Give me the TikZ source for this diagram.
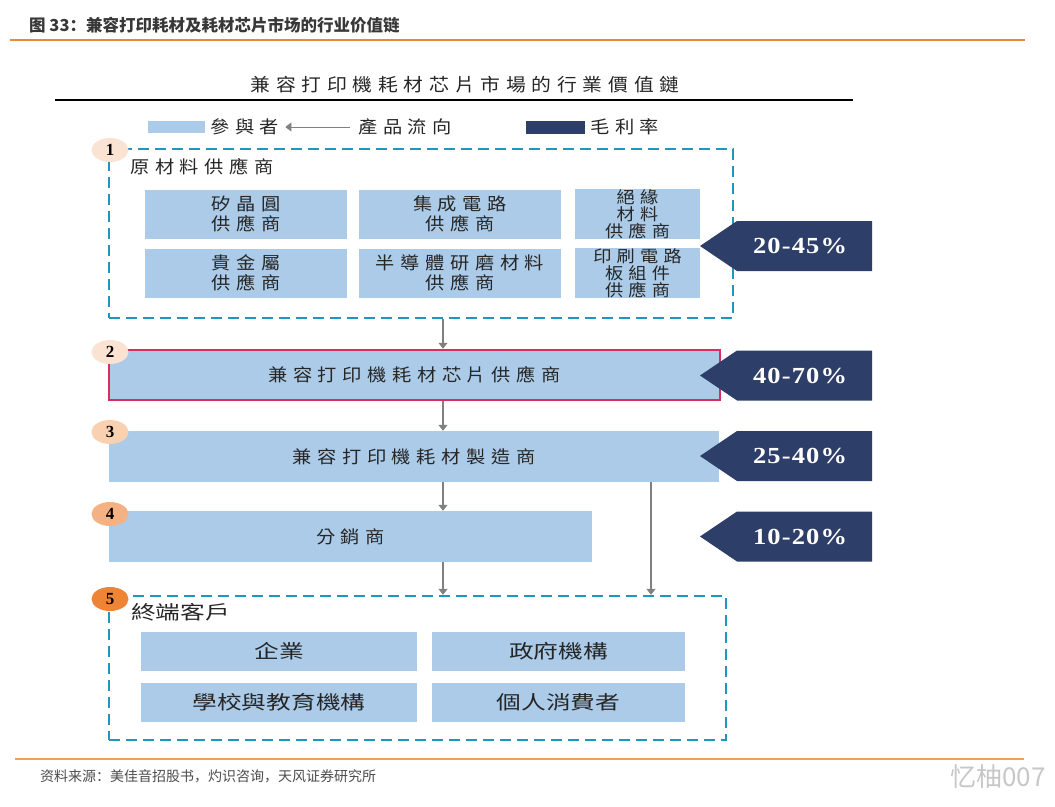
\documentclass[tikz,border=0pt]{standalone}
\usepackage{fontspec}
\usepackage{tikz}
\usetikzlibrary{arrows.meta,shapes.geometric}
\setmainfont{Liberation Serif}
\newfontfamily\tcfont{Noto Sans CJK TC}[FakeStretch=1.1,LetterSpace=32]
\newfontfamily\tcwide{Noto Sans CJK TC}[FakeStretch=1.3]
\newfontfamily\scfont{Noto Sans CJK SC}
\newfontfamily\pctfont{Liberation Serif}[FakeStretch=1.15,LetterSpace=5]
\definecolor{partcol}{HTML}{ABCBE8}
\definecolor{gmcol}{HTML}{2D3E68}
\definecolor{dashcol}{HTML}{1D97BD}
\definecolor{chipcol}{HTML}{DE2A60}
\definecolor{flowcol}{HTML}{808080}
\definecolor{rulecol}{HTML}{E5893A}
\definecolor{bdgA}{HTML}{FBE3D3}
\definecolor{bdgB}{HTML}{F9D0B0}
\definecolor{bdgC}{HTML}{F4B183}
\definecolor{bdgD}{HTML}{EE8435}

\begin{document}
\begin{tikzpicture}[x=1pt,y=-1pt,>=Stealth,
  part/.style={fill=partcol,inner sep=0pt,align=center,text=black!85,font=\tcfont\fontsize{17.5}{20}\selectfont},
  user/.style={fill=partcol,inner sep=0pt,text=black!85,font=\tcwide\fontsize{19}{20}\selectfont},
  group/.style={draw=dashcol,line width=2.4pt,dash pattern=on 11pt off 6pt,inner sep=0pt},
  badge/.style={ellipse,inner sep=0pt,minimum width=37pt,minimum height=24pt,font=\bfseries\fontsize{17}{17}\selectfont},
  flow/.style={draw=flowcol,line width=1.2pt,-{Triangle[length=6pt,width=9pt]}},
  pct/.style={text=white,font=\pctfont\bfseries\fontsize{23}{23}\selectfont},
  legend/.style={anchor=west,inner sep=0pt,text=black!85,font=\tcfont\fontsize{17.5}{17.5}\selectfont}]
  \useasboundingbox (0,0) rectangle (1055,806);
  % header
  \node[anchor=west,inner sep=0pt,font=\scfont\bfseries\fontsize{16.5}{16.5}\selectfont,text=black!78] (fig) at (29,25) {图 33：兼容打印耗材及耗材芯片市场的行业价值链};
  \draw[rulecol,line width=2pt] (10,40) -- (1025,40);
  \node[text=black!85,font=\tcfont\fontsize{18}{18}\selectfont] (title) at (465,85) {兼容打印機耗材芯片市場的行業價值鏈};
  \draw[line width=2.5pt] (55,100) -- (853,100);
  % legend
  \fill[partcol] (148,121) rectangle (205,133);
  \node[legend] (lgpart) at (210,127) {參與者};
  \node[legend] (lgflow) at (358,127) {產品流向};
  \draw[flow,line width=0.8pt,shorten >=6pt,shorten <=8pt] (lgflow.west) -- (lgpart.east);
  \fill[gmcol] (526,121) rectangle (585,134);
  \node[legend] (lggm) at (590,127) {毛利率};
  % raw material suppliers
  \node[group,minimum width=624pt,minimum height=169pt] (supply) at (421,233.5) {};
  \node[legend] (supplyhd) at (130,167) {原材料供應商};
  \foreach \nm/\cx/\cy/\w/\fs/\lh/\txt in {wafer/246/214/202/17.5/20/{矽晶圓\\供應商},
      ic/460/214/202/17.5/20/{集成電路\\供應商}, insul/637.5/214/125/16.5/17/{絕緣\\材料\\供應商},
      metal/246/273/202/17.5/20/{貴金屬\\供應商}, abras/460/273/202/17.5/20/{半導體研磨材料\\供應商},
      pcb/637.5/273/125/16.5/17/{印刷電路\\板組件\\供應商}}
    \node[part,font=\tcfont\fontsize{\fs}{\lh}\selectfont,minimum width=\w pt,minimum height=49pt] (\nm) at (\cx,\cy) {\txt};
  % chain
  \node[part,draw=chipcol,line width=2.5pt,minimum width=611pt,minimum height=50pt] (chip) at (414.5,375) {兼容打印機耗材芯片供應商};
  \node[part,minimum width=610pt,minimum height=51pt] (maker) at (414,456.5) {兼容打印機耗材製造商};
  \node[part,minimum width=483pt,minimum height=51pt] (dist) at (350.5,536.5) {分銷商};
  % end customers
  \node[group,minimum width=617pt,minimum height=144pt] (users) at (417.5,668) {};
  \node[anchor=west,inner sep=0pt,text=black!85,font=\tcwide\fontsize{19}{19}\selectfont] (usershd) at (131,612) {終端客戶};
  \foreach \nm/\cx/\cy/\w/\txt in {ent/279/651/276/企業, gov/558.5/651/253/政府機構,
      school/279/702/276/學校與教育機構, consumer/558.5/702/253/個人消費者}
    \node[user,minimum width=\w pt,minimum height=39pt] (\nm) at (\cx,\cy) {\txt};
  \foreach \k/\cy/\c in {1/150/bdgA,2/352/bdgA,3/432/bdgB,4/514/bdgC,5/599/bdgD}
    \node[badge,fill=\c] (badge\k) at (110,\cy) {\k};
  % product flow
  \coordinate (mainx) at (443,0);
  \coordinate (sidex) at (651,0);
  \draw[flow] (supply.south -| mainx) -- (chip.north -| mainx);
  \draw[flow] (chip.south -| mainx) -- (maker.north -| mainx);
  \draw[flow] (maker.south -| mainx) -- (dist.north -| mainx);
  \draw[flow] (dist.south -| mainx) -- (users.north -| mainx);
  \draw[flow] (maker.south -| sidex) -- (users.north -| sidex);
  % gross margin tags
  \foreach \k/\cy/\v in {1/246/20-45,2/375.5/40-70,3/456/25-40,4/536.5/10-20}{
    \fill[gmcol] (700,\cy) -- (737,\cy-25) -- (872,\cy-25) -- (872,\cy+25) -- (737,\cy+25) -- cycle;
    \node[pct] (gm\k) at (800,\cy) {\v\%};
  }
  % footer
  \draw[rulecol!80,line width=1.2pt] (15,759) -- (1024,759);
  \node[anchor=west,inner sep=0pt,font=\scfont\fontsize{14}{14}\selectfont,text=black!70] (src) at (40,776) {资料来源：美佳音招股书，灼识咨询，天风证券研究所};
  \node[anchor=east,inner sep=0pt,font=\scfont\fontsize{26}{26}\selectfont,text=black!22] (wm) at (1046,777) {忆柚007};
\end{tikzpicture}
\end{document}
